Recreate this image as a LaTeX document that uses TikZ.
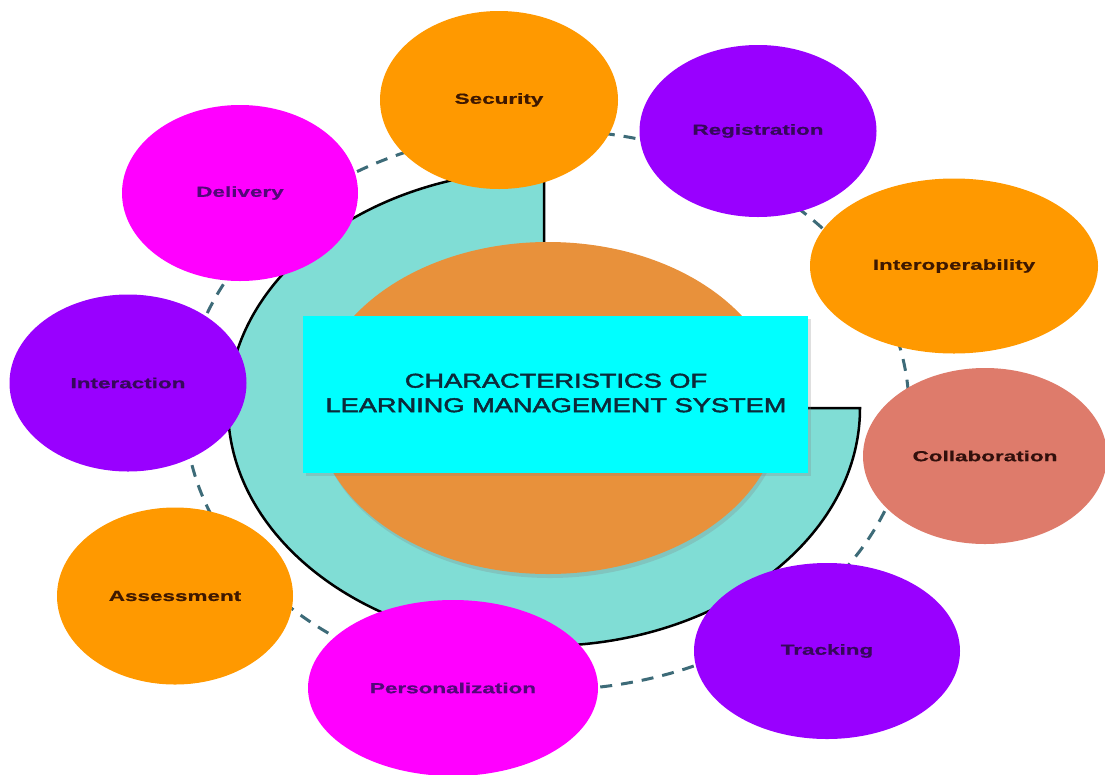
\documentclass[tikz,border=0pt]{standalone}
\usepackage{fontspec}
\setmainfont{Liberation Sans}
\usetikzlibrary{shapes.geometric,shadows}
\definecolor{bOrange}{HTML}{FF9900}
\definecolor{bPurple}{HTML}{9900FF}
\definecolor{bMagenta}{HTML}{FF00FF}
\definecolor{bSalmon}{HTML}{DE7B6B}
\definecolor{ringTeal}{HTML}{80DDD5}
\definecolor{coreOrange}{HTML}{E8913B}
\definecolor{titleCyan}{HTML}{00FFFF}
\definecolor{dashCol}{HTML}{3D6B78}
\definecolor{titleText}{HTML}{0C2A3A}
\definecolor{txtBrown}{HTML}{3E1800}
\definecolor{txtPurple}{HTML}{36085A}
\definecolor{txtMag}{HTML}{520878}
\definecolor{txtSalmon}{HTML}{32100C}
\newcommand{\wlab}[1]{\scalebox{1.55}[1]{#1}}
\newcommand{\wtitle}[1]{\scalebox{1.36}[1]{#1}}
\begin{document}
\begin{tikzpicture}[x=1pt,y=-1pt,
  bubble/.style={ellipse, inner sep=0pt, draw=none,
    font=\fontsize{14.5}{16}\selectfont\bfseries\addfontfeature{FakeBold=0.6}},
  orangeb/.style={bubble, fill=bOrange, text=txtBrown},
  purpleb/.style={bubble, fill=bPurple, text=txtPurple},
  magentab/.style={bubble, fill=bMagenta, text=txtMag},
  salmonb/.style={bubble, fill=bSalmon, text=txtSalmon},
  ringline/.style={draw=dashCol, line width=3pt, dash pattern=on 12pt off 9pt},
  tealshape/.style={fill=ringTeal, draw=black, line width=2.5pt, line join=miter}]

\fill[white] (0,0) rectangle (1105,774);
\useasboundingbox (0,0) rectangle (1105,774);

% dashed orbit
\draw[ringline] (547,410) ellipse [x radius=362, y radius=280];

% teal three-quarter shape
\coordinate (tc) at (544,408);
\draw[tealshape] (tc) -- (544,170)
  arc[start angle=-90, end angle=-360, x radius=316, y radius=238] -- cycle;

% core ellipse
\node[ellipse, fill=coreOrange, minimum width=466pt, minimum height=332pt, inner sep=0pt,
  drop shadow={opacity=0.25, shadow xshift=2pt, shadow yshift=-4pt}] (core) at (548,408) {};

% title box
\node[rectangle, fill=titleCyan, minimum width=505pt, minimum height=157pt, inner sep=0pt,
  drop shadow={opacity=0.25, shadow xshift=3pt, shadow yshift=-3pt}] (box) at (555.5,394.5) {};
\node[align=center, text=titleText, font=\fontsize{20}{24.5}\selectfont\addfontfeature{FakeBold=2}, inner sep=0pt] (title) at (556,393)
  {\wtitle{CHARACTERISTICS OF}\\\wtitle{LEARNING MANAGEMENT SYSTEM}};

% bubbles
\node[orangeb, minimum width=238pt, minimum height=178pt] (security) at (499,100) {\wlab{Security}};
\node[purpleb, minimum width=237pt, minimum height=172pt] (registration) at (758,131) {\wlab{Registration}};
\node[magentab, minimum width=236pt, minimum height=176pt] (delivery) at (240,193) {\wlab{Delivery}};
\node[orangeb, minimum width=288pt, minimum height=175pt] (interop) at (954,266) {\wlab{Interoperability}};
\node[purpleb, minimum width=237pt, minimum height=177pt] (interaction) at (128,383) {\wlab{Interaction}};
\node[salmonb, minimum width=244pt, minimum height=176pt] (collab) at (985,456) {\wlab{Collaboration}};
\node[orangeb, minimum width=236pt, minimum height=177pt] (assess) at (175,596) {\wlab{Assessment}};
\node[magentab, minimum width=290pt, minimum height=176pt] (person) at (453,688) {\wlab{Personalization}};
\node[purpleb, minimum width=266pt, minimum height=176pt] (tracking) at (827,651) {\wlab{Tracking}};
\end{tikzpicture}
\end{document}
